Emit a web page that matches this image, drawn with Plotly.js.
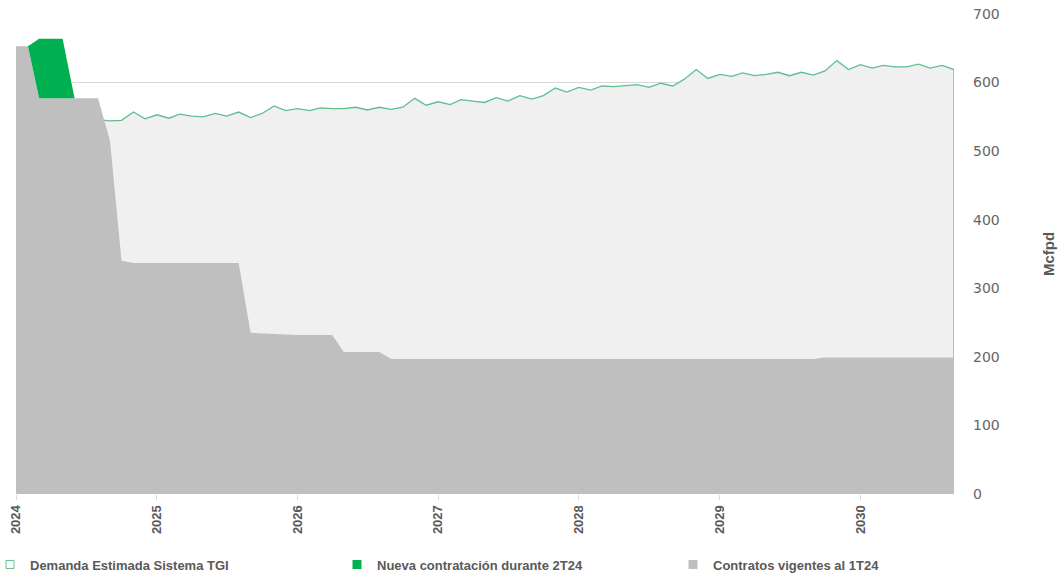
<!DOCTYPE html>
<html>
<head>
<meta charset="utf-8">
<script src="https://cdn.plot.ly/plotly-3.0.1.min.js"></script>
<style>html,body{margin:0;padding:0;background:#fff;}#chart{width:1061px;height:576px;}</style>
</head>
<body>
<div id="chart"></div>
<script>
// Monthly dates Jan 2024 .. Sep 2030
function monthList(y0, m0, y1, m1) {
  var out = [];
  var y = y0, m = m0;
  while (y < y1 || (y === y1 && m <= m1)) {
    out.push(y + '-' + (m < 10 ? '0' + m : m) + '-01');
    m++; if (m > 12) { m = 1; y++; }
  }
  return out;
}
var contractDates = monthList(2024, 1, 2030, 9);
var newContractDates = monthList(2024, 1, 2024, 7);
var demandDates = monthList(2024, 8, 2030, 9);

// Contratos vigentes al 1T24 (Mcfpd)
var contratosVigentes = [
  653, 653, 577, 577, 577, 577, 577, 577, 515, 340, 337, 337,
  337, 337, 337, 337, 337, 337, 337, 337, 235, 234, 233, 232,
  232, 232, 232, 232, 207, 207, 207, 207, 197, 197, 197, 197,
  197, 197, 197, 197, 197, 197, 197, 197, 197, 197, 197, 197,
  197, 197, 197, 197, 197, 197, 197, 197, 197, 197, 197, 197,
  197, 197, 197, 197, 197, 197, 197, 197, 197, 199, 199, 199,
  199, 199, 199, 199, 199, 199, 199, 199, 199
];
// Nueva contratación durante 2T24 (stacked on top)
var nuevaContratacion = [0, 0, 87, 87, 87, 0, 0];
// Demanda Estimada Sistema TGI
var demanda = [
  546, 544, 545, 557, 547,
  553, 548, 554, 551, 550, 555, 551, 557, 549, 555, 566, 559,
  562, 559, 563, 562, 562, 564, 560, 564, 561, 564, 577, 567,
  572, 568, 575, 573, 571, 578, 573, 581, 576, 581, 592, 586,
  593, 589, 595, 594, 595, 597, 593, 599, 595, 605, 619, 606,
  612, 609, 614, 610, 612, 615, 610, 615, 611, 617, 632, 619,
  626, 621, 625, 623, 623, 627, 621, 625, 619
];
var yTicks = [0, 100, 200, 300, 400, 500, 600, 700];
var xTickVals = ['2024-01-01','2025-01-01','2026-01-01','2027-01-01','2028-01-01','2029-01-01','2030-01-01'];
var xTickText = ['2024','2025','2026','2027','2028','2029','2030'];
var names = ['Demanda Estimada Sistema TGI', 'Nueva contratación durante 2T24', 'Contratos vigentes al 1T24'];

var cDemLine = '#5fbf8f', cDemFill = '#f0f0f0', cNew = '#00b050', cOld = '#bfbfbf';

var lastDate = demandDates[demandDates.length - 1];
var traces = [
  {
    x: demandDates.concat([lastDate]), y: demanda.concat([0]),
    type: 'scatter', mode: 'lines', fill: 'tozeroy', fillcolor: cDemFill,
    line: {color: cDemLine, width: 1.3}, showlegend: false, hoverinfo: 'skip'
  },
  {
    x: contractDates, y: contratosVigentes, type: 'scatter', mode: 'lines',
    stackgroup: 'c', fillcolor: cOld, line: {width: 0, color: cOld}, showlegend: false
  },
  {
    x: newContractDates, y: nuevaContratacion, type: 'scatter', mode: 'lines',
    stackgroup: 'c', fillcolor: cNew, line: {width: 0, color: cNew}, showlegend: false
  },
  // legend entries
  {x: [null], y: [null], type: 'scatter', mode: 'markers', name: names[0], legend: 'legend',
   marker: {symbol: 'square-open', size: 8, color: cDemLine, line: {width: 1}}},
  {x: [null], y: [null], type: 'scatter', mode: 'markers', name: names[1], legend: 'legend2',
   marker: {symbol: 'square', size: 9, color: cNew}},
  {x: [null], y: [null], type: 'scatter', mode: 'markers', name: names[2], legend: 'legend3',
   marker: {symbol: 'square', size: 9, color: cOld}}
];

var legendFont = {family: 'Liberation Sans, Arial, sans-serif', size: 13, color: '#595959', weight: 'bold'};
var plotLeft = 16, plotWidth = 938;
function legendAt(px) {
  // horizontal position given in page pixels, converted to paper fraction
  return {
    orientation: 'h', xref: 'paper', yref: 'container',
    x: (px - plotLeft) / plotWidth, xanchor: 'left', y: 0.02, yanchor: 'middle',
    font: legendFont, bgcolor: 'rgba(0,0,0,0)'
  };
}

var layout = {
  width: 1061, height: 576,
  margin: {l: 16, r: 107, t: 14, b: 82, autoexpand: false},
  paper_bgcolor: '#ffffff', plot_bgcolor: '#ffffff',
  showlegend: true,
  legend: legendAt(-10),
  legend2: legendAt(337),
  legend3: legendAt(673),
  xaxis: {
    type: 'date', range: ['2024-01-01', lastDate], automargin: false,
    tickmode: 'array', tickvals: xTickVals, ticktext: xTickText,
    tickangle: -90, ticks: 'outside', ticklen: 5, tickcolor: '#d9d9d9',
    tickfont: {family: 'Liberation Sans, Arial, sans-serif', size: 13, color: '#595959', weight: 'bold'},
    showgrid: false, zeroline: false, showline: false, fixedrange: true
  },
  yaxis: {
    side: 'right', range: [0, 700], tickvals: yTicks, automargin: false,
    showgrid: true, gridcolor: '#d9d9d9', gridwidth: 1, zeroline: false, showline: false,
    ticks: '', ticklabelstandoff: 18,
    tickfont: {family: 'DejaVu Sans, sans-serif', size: 14, color: '#666666'},
    title: {text: 'Mcfpd', standoff: 44, font: {family: 'Liberation Sans, Arial, sans-serif', size: 15, color: '#595959', weight: 'bold'}},
    fixedrange: true
  }
};

Plotly.newPlot('chart', traces, layout, {displayModeBar: false, staticPlot: true});
</script>
</body>
</html>
